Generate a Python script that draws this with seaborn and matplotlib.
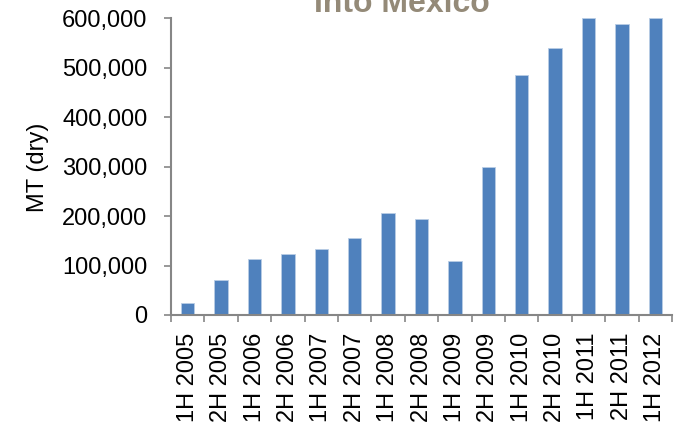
import matplotlib
matplotlib.use("Agg")
import matplotlib.pyplot as plt
from matplotlib.ticker import FuncFormatter, FixedLocator
import seaborn as sns
import pandas as pd

# Half-year periods and dry tonnage shipped into Mexico
periods = ["1H 2005", "2H 2005", "1H 2006", "2H 2006", "1H 2007", "2H 2007",
           "1H 2008", "2H 2008", "1H 2009", "2H 2009", "1H 2010", "2H 2010",
           "1H 2011", "2H 2011", "1H 2012"]
tonnage = [25000, 70000, 114000, 124000, 134000, 156000,
           207000, 193000, 110000, 300000, 485000, 540000,
           600000, 588000, 600000]
y_ticks = [0, 100000, 200000, 300000, 400000, 500000, 600000]

df = pd.DataFrame({"period": periods, "tonnage": tonnage})

sns.set_theme(style="white")
plt.rcParams["font.family"] = ["Liberation Sans", "DejaVu Sans"]

fig = plt.figure(figsize=(6.77, 4.22), dpi=100)
ax = fig.add_axes([0.2526, 0.2536, 0.74, 0.7034])

sns.barplot(data=df, x="period", y="tonnage", color="#4F81BD", saturation=1,
            width=0.4, edgecolor="#B9CDE5", linewidth=0.6, ax=ax)

axis_grey = "#868686"
ax.set_ylim(0, 600000)
ax.set_xlim(-0.5, len(periods) - 0.5)
ax.set_yticks(y_ticks)
ax.yaxis.set_major_formatter(FuncFormatter(lambda v, p: f"{int(v):,}"))

# category boundaries carry the tick marks; labels sit at bar centres
ax.xaxis.set_minor_locator(FixedLocator([i - 0.5 for i in range(len(periods) + 1)]))
ax.tick_params(axis="x", which="major", length=0, pad=12.5, labelsize=17,
               labelrotation=90, labelcolor="black")
ax.tick_params(axis="x", which="minor", length=5, width=1.2, color=axis_grey,
               direction="out", bottom=True)
ax.tick_params(axis="y", which="major", length=5, width=1.2, color=axis_grey,
               direction="out", left=True, pad=12, labelsize=17,
               labelcolor="black")

for side in ("top", "right"):
    ax.spines[side].set_visible(False)
for side in ("left", "bottom"):
    ax.spines[side].set_color(axis_grey)
    ax.spines[side].set_linewidth(1.5)

ax.set_xlabel("")
ax.set_ylabel("MT (dry)", fontsize=17, color="black", va="center")
ax.yaxis.set_label_coords(-0.265, 0.498)

fig.text(0.594, 0.9716, "Into Mexico", ha="center", va="baseline",
         fontsize=23, fontweight="bold", color="#948A78")

fig.savefig("out.png", dpi=100)
